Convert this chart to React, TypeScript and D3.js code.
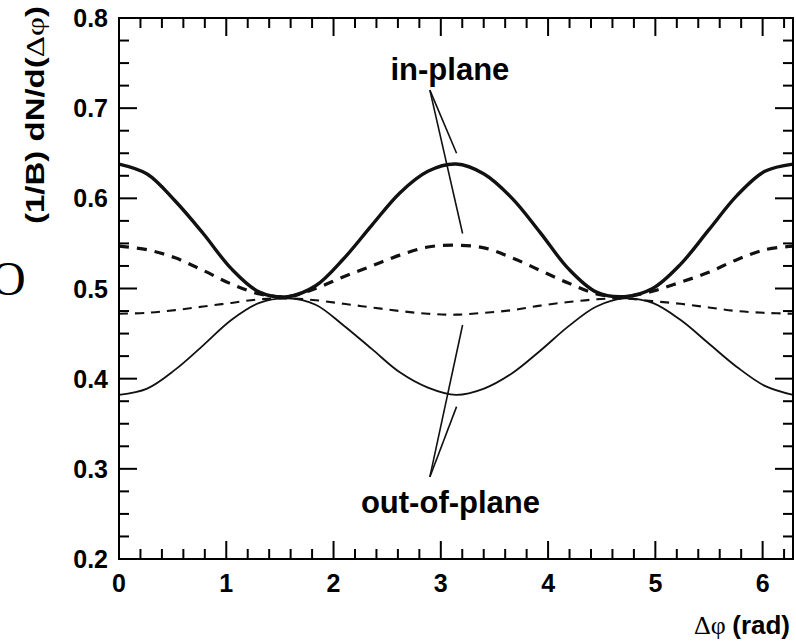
import React from "react";
import * as d3 from "d3";

// delta phi sample points (rad), pi/12 steps
const phi = [
  0, 0.262, 0.524, 0.785, 1.047, 1.309, 1.571, 1.833, 2.094, 2.356, 2.618, 2.88, 3.142,
  3.403, 3.665, 3.927, 4.189, 4.451, 4.712, 4.974, 5.236, 5.498, 5.76, 6.021, 6.283,
];

// thick solid
const inPlaneSolid = [
  0.638, 0.627, 0.597, 0.561, 0.522, 0.496, 0.491, 0.503, 0.533, 0.57, 0.606, 0.63, 0.638,
  0.627, 0.6, 0.562, 0.522, 0.496, 0.491, 0.5, 0.527, 0.565, 0.603, 0.63, 0.638,
];
// thick dashed
const inPlaneDashed = [
  0.547, 0.543, 0.534, 0.52, 0.505, 0.494, 0.491, 0.5, 0.513, 0.525, 0.537, 0.546, 0.548,
  0.545, 0.534, 0.52, 0.506, 0.494, 0.491, 0.497, 0.507, 0.518, 0.532, 0.543, 0.547,
];
// thin dashed
const outPlaneDashed = [
  0.472, 0.473, 0.476, 0.48, 0.484, 0.488, 0.489, 0.487, 0.483, 0.479, 0.475, 0.472, 0.471,
  0.473, 0.476, 0.481, 0.485, 0.488, 0.489, 0.486, 0.483, 0.479, 0.475, 0.473, 0.472,
];
// thin solid
const outPlaneSolid = [
  0.382, 0.389, 0.41, 0.437, 0.465, 0.484, 0.489, 0.482, 0.459, 0.433, 0.407, 0.39, 0.382,
  0.389, 0.406, 0.431, 0.458, 0.48, 0.489, 0.484, 0.465, 0.439, 0.413, 0.392, 0.382,
];

const xTickLabels = ["0", "1", "2", "3", "4", "5", "6"];
const yTickLabels = ["0.2", "0.3", "0.4", "0.5", "0.6", "0.7", "0.8"];

const W = 796;
const H = 642;
const left = 119, top = 18, right = 793, bottom = 559;

const sans = "'Liberation Sans', Arial, Helvetica, sans-serif";
const serif = "'Liberation Serif', 'Times New Roman', serif";

const App = () => {
  const x = d3.scaleLinear().domain([0, 2 * Math.PI]).range([left, right]);
  const y = d3.scaleLinear().domain([0.2, 0.8]).range([bottom, top]);

  const line = d3
    .line<number>()
    .x((d, i) => x(phi[i]))
    .y(d => y(d))
    .curve(d3.curveCatmullRom.alpha(0.5));

  const xMinor = d3.range(0, 6.21, 0.2).filter(v => Math.abs(v - Math.round(v)) > 0.01);
  const yMinor = d3.range(0.2, 0.8001, 0.025).filter(v => Math.abs(v * 10 - Math.round(v * 10)) > 0.01);

  const tickStyle = { stroke: "#000", strokeWidth: 2 };
  const major = 18, minor = 10;

  return (
    <svg width={W} height={H} style={{ position: "absolute", left: 0, top: 0, background: "#fff" }}>
      {/* clipped letter from neighbouring panel */}
      <text x={-9} y={295} fontFamily={serif} fontSize={48}>O</text>

      {/* curves */}
      <path d={line(outPlaneSolid) || ""} fill="none" stroke="#111" strokeWidth={1.8} />
      <path d={line(outPlaneDashed) || ""} fill="none" stroke="#111" strokeWidth={2.1} strokeDasharray="9 7" />
      <path d={line(inPlaneDashed) || ""} fill="none" stroke="#111" strokeWidth={3.2} strokeDasharray="10 8" />
      <path d={line(inPlaneSolid) || ""} fill="none" stroke="#111" strokeWidth={3.4} />

      {/* frame */}
      <rect x={left} y={top} width={right - left} height={bottom - top} fill="none" stroke="#000" strokeWidth={2} />

      {/* x ticks, bottom and top */}
      {xTickLabels.map((t, i) => (
        <g key={"xt" + i}>
          <line x1={x(+t)} x2={x(+t)} y1={bottom} y2={bottom - major} {...tickStyle} />
          <line x1={x(+t)} x2={x(+t)} y1={top} y2={top + major} {...tickStyle} />
          <text x={x(+t)} y={592} textAnchor="middle" fontFamily={sans} fontWeight="bold" fontSize={25}>{t}</text>
        </g>
      ))}
      {xMinor.map((v, i) => (
        <g key={"xm" + i}>
          <line x1={x(v)} x2={x(v)} y1={bottom} y2={bottom - minor} {...tickStyle} />
          <line x1={x(v)} x2={x(v)} y1={top} y2={top + minor} {...tickStyle} />
        </g>
      ))}

      {/* y ticks, left and right */}
      {yTickLabels.map((t, i) => (
        <g key={"yt" + i}>
          <line x1={left} x2={left + major} y1={y(+t)} y2={y(+t)} {...tickStyle} />
          <line x1={right} x2={right - major} y1={y(+t)} y2={y(+t)} {...tickStyle} />
          <text x={108} y={y(+t) + 9} textAnchor="end" fontFamily={sans} fontWeight="bold" fontSize={25}>{t}</text>
        </g>
      ))}
      {yMinor.map((v, i) => (
        <g key={"ym" + i}>
          <line x1={left} x2={left + minor} y1={y(v)} y2={y(v)} {...tickStyle} />
          <line x1={right} x2={right - minor} y1={y(v)} y2={y(v)} {...tickStyle} />
        </g>
      ))}

      {/* axis titles */}
      <text
        transform={`translate(44,115) rotate(-90)`}
        textAnchor="middle"
        fontFamily={sans}
        fontWeight="bold"
        fontSize={25}
        textLength={218}
        lengthAdjust="spacingAndGlyphs"
      >
        (1/B) dN/d(<tspan fontFamily={serif} fontWeight="normal">Δφ</tspan>)
      </text>
      <text x={790} y={634} textAnchor="end" fontSize={26}>
        <tspan fontFamily={serif}>Δφ </tspan>
        <tspan fontFamily={sans} fontWeight="bold">(rad)</tspan>
      </text>

      {/* annotations */}
      <text x={x(3.085)} y={y(0.731)} textAnchor="middle" fontFamily={sans} fontWeight="bold" fontSize={31}>in-plane</text>
      <line x1={x(2.898)} y1={y(0.72)} x2={x(3.147)} y2={y(0.65)} stroke="#111" strokeWidth={1.6} />
      <line x1={x(2.898)} y1={y(0.72)} x2={x(3.203)} y2={y(0.561)} stroke="#111" strokeWidth={1.6} />

      <text x={x(3.09)} y={y(0.251)} textAnchor="middle" fontFamily={sans} fontWeight="bold" fontSize={31}>out-of-plane</text>
      <line x1={x(2.898)} y1={y(0.291)} x2={x(3.203)} y2={y(0.4595)} stroke="#111" strokeWidth={1.6} />
      <line x1={x(2.898)} y1={y(0.291)} x2={x(3.147)} y2={y(0.369)} stroke="#111" strokeWidth={1.6} />
    </svg>
  );
};

export default App;
